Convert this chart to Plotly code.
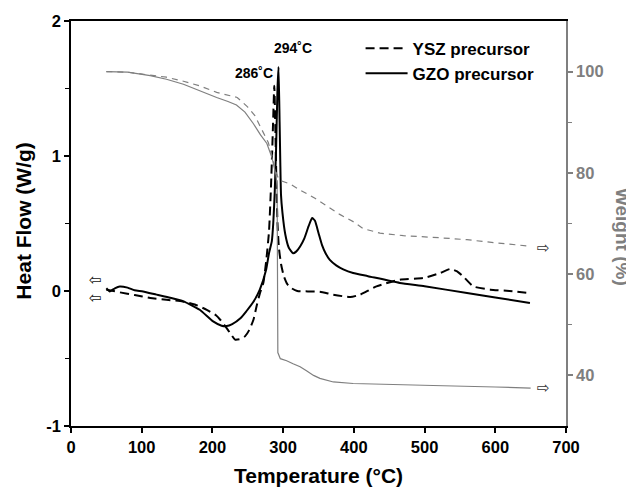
import plotly.graph_objects as go

# ---- DSC (left axis, Heat Flow W/g) ----
gzo_dsc_T = [50, 55, 62, 69, 80, 90, 102, 121, 140, 159, 182, 201, 213, 220, 228, 240, 248, 258, 267,
             276, 280, 284, 286, 288, 290, 292, 293.5, 295, 296, 297, 299, 303, 308, 314, 318, 324, 330,
             336, 341, 345, 350, 355, 360, 366, 375, 385, 399, 420, 465, 500, 560, 600, 649]
gzo_dsc_HF = [0.02, -0.003, 0.02, 0.034, 0.025, 0.005, -0.003, -0.027, -0.05, -0.077, -0.139, -0.225,
              -0.257, -0.26, -0.245, -0.2, -0.15, -0.08, 0.01,
              0.16, 0.28, 0.37, 0.5, 0.72, 1.05, 1.5, 1.66, 1.25, 0.95, 0.71, 0.58, 0.42, 0.32, 0.28,
              0.29, 0.33, 0.39, 0.48, 0.54, 0.52, 0.43, 0.34, 0.28, 0.23, 0.19, 0.16, 0.133, 0.11,
              0.06, 0.035, -0.015, -0.048, -0.089]

ysz_dsc_T = [50, 60, 69, 90, 112, 135, 158, 175, 192, 205, 211, 218, 225, 232, 240, 246, 252, 258, 263,
             267, 272, 276, 280, 283, 285.5, 287.5, 289, 290.5, 292, 294, 297, 301, 306, 312, 320, 335,
             352, 371, 395, 409, 432, 465, 498, 522, 536, 546, 556, 569, 593, 620, 649]
ysz_dsc_HF = [0.01, 0.0, -0.01, -0.03, -0.052, -0.065, -0.077, -0.1, -0.139, -0.18, -0.213, -0.26,
              -0.311, -0.36, -0.355, -0.336, -0.29, -0.213, -0.1, -0.02, 0.06, 0.22, 0.44, 0.8, 1.2,
              1.52, 1.2, 0.8, 0.5, 0.32, 0.2, 0.11, 0.05, 0.02, 0.0, -0.003, -0.005, -0.027, -0.045,
              -0.027, 0.034, 0.084, 0.096, 0.133, 0.163, 0.145, 0.1, 0.034, 0.01, 0.0, -0.015]

# ---- TGA (right axis, Weight %) ----
gzo_tga_T = [50, 80, 112, 135, 159, 182, 206, 222, 234, 246, 258, 268, 277, 284, 288, 290, 291.5, 292,
             292.5, 296, 305, 314, 324, 333, 343, 352, 371, 399, 420, 512, 600, 650]
gzo_tga_W = [100, 99.9, 99.2, 98.5, 97.5, 96.2, 94.9, 94.1, 93.4, 92.0, 89.7, 87.5, 85.8, 83.1, 81.0,
             79.5, 77.0, 60.0, 44.5, 43.3, 42.9, 42.3, 41.7, 40.9, 40.0, 39.4, 38.7, 38.4, 38.3, 38.0,
             37.7, 37.5]

ysz_tga_T = [50, 80, 112, 135, 159, 182, 206, 235, 250, 260, 270, 279, 285, 289, 293, 298, 310, 324,
             345, 360, 380, 400, 413, 437, 470, 520, 560, 600, 650]
ysz_tga_W = [100, 99.9, 99.3, 98.9, 98.1, 97.2, 95.9, 94.9, 93.0, 91.3, 88.5, 86.0, 83.0, 80.5, 79.0,
             78.4, 77.8, 76.6, 75.0, 73.6, 71.8, 70.3, 69.0, 68.1, 67.6, 67.2, 66.8, 66.2, 65.5]

x_ticks = [0, 100, 200, 300, 400, 500, 600, 700]
y_ticks = [-1, 0, 1, 2]
y_ticktext = ["-1", "0", "1", "2"]
y2_ticks = [40, 60, 80, 100]

peak_labels = ["294˚C", "286˚C"]
series_names = ["YSZ precursor", "GZO precursor"]

GRAY = "#7f7f7f"
FONT = "Liberation Sans, Arial, sans-serif"

fig = go.Figure()
fig.add_trace(go.Scatter(x=ysz_tga_T, y=ysz_tga_W, yaxis="y2", mode="lines", showlegend=False,
                         line=dict(color=GRAY, width=1.2, dash="6px,5px")))
fig.add_trace(go.Scatter(x=gzo_tga_T, y=gzo_tga_W, yaxis="y2", mode="lines", showlegend=False,
                         line=dict(color=GRAY, width=1.2)))
fig.add_trace(go.Scatter(x=ysz_dsc_T, y=ysz_dsc_HF, mode="lines", name=series_names[0],
                         line=dict(color="black", width=2, dash="9px,5px", shape="spline", smoothing=0.5)))
fig.add_trace(go.Scatter(x=gzo_dsc_T, y=gzo_dsc_HF, mode="lines", name=series_names[1],
                         line=dict(color="black", width=2, shape="spline", smoothing=0.5)))

tickfont = dict(family=FONT, size=16.5, color="black", weight="bold")

# page body has an 8px margin, so the figure is sized/margined to land the plot at the right pixels
fig.update_layout(
    width=626, height=479,
    margin=dict(l=63, r=68, t=13, b=61, autoexpand=False),
    paper_bgcolor="white", plot_bgcolor="white",
    showlegend=True,
    legend=dict(x=0.585, y=0.976, xanchor="left", yanchor="top", bgcolor="rgba(0,0,0,0)",
                font=dict(family=FONT, size=17, color="black", weight="bold"),
                tracegroupgap=0, itemwidth=42),
    xaxis=dict(range=[0, 700], tickmode="array", tickvals=x_ticks, ticks="outside", ticklen=5,
               tickwidth=1.5, tickcolor="black", showline=True, linecolor="black", linewidth=1.5,
               mirror=True, showgrid=False, zeroline=False, tickfont=tickfont),
    yaxis=dict(range=[-1, 2], tickmode="array", tickvals=y_ticks, ticktext=y_ticktext,
               ticks="outside", ticklen=5, tickwidth=1.5, tickcolor="black", showline=True,
               linecolor="black", linewidth=1.5, showgrid=False, zeroline=False, tickfont=tickfont,
               minor=dict(tickmode="array", tickvals=[-0.5, 0.5, 1.5], ticks="outside", ticklen=4,
                          tickwidth=1.2, tickcolor="black", showgrid=False)),
    yaxis2=dict(range=[30, 110], overlaying="y", side="right", anchor="x", tickmode="array",
                tickvals=y2_ticks, ticks="outside", ticklen=5, tickwidth=1.5, tickcolor=GRAY,
                showline=True, linecolor=GRAY, linewidth=1.5, showgrid=False, zeroline=False,
                tickfont=dict(family=FONT, size=16.5, color=GRAY, weight="bold"),
                minor=dict(tickmode="array", tickvals=[50, 70, 90], ticks="outside", ticklen=4,
                           tickwidth=1.2, tickcolor=GRAY, showgrid=False)),
)

ann_font = dict(family=FONT, size=14, color="black", weight="bold")
fig.add_annotation(x=314, y=1.80, xref="x", yref="y", text=peak_labels[0], showarrow=False, font=ann_font)
fig.add_annotation(x=259, y=1.617, xref="x", yref="y", text=peak_labels[1], showarrow=False, font=ann_font)

# axis titles
fig.add_annotation(x=-0.095, y=0.507, xref="paper", yref="paper", text="Heat Flow (W/g)", textangle=-90,
                   showarrow=False, xanchor="center", yanchor="middle",
                   font=dict(family=FONT, size=21, color="black", weight="bold"))
fig.add_annotation(x=0.5, y=-0.123, xref="paper", yref="paper", text="Temperature (°C)",
                   showarrow=False, xanchor="center", yanchor="middle",
                   font=dict(family=FONT, size=21, color="black", weight="bold"))
fig.add_annotation(x=1.113, y=0.467, xref="paper", yref="paper", text="Weight (%)", textangle=90,
                   showarrow=False, xanchor="center", yanchor="middle",
                   font=dict(family=FONT, size=19, color=GRAY, weight="bold"))

# direction arrows (hollow)
arrow_font = dict(family="DejaVu Sans", size=15, color="#111111")
fig.add_annotation(x=34, y=0.084, xref="x", yref="y", text="⇦", showarrow=False, font=arrow_font)
fig.add_annotation(x=34, y=-0.05, xref="x", yref="y", text="⇦", showarrow=False, font=arrow_font)
arrow_font2 = dict(family="DejaVu Sans", size=15, color="#333333")
fig.add_annotation(x=668, y=65.2, xref="x", yref="y2", text="⇨", showarrow=False, font=arrow_font2)
fig.add_annotation(x=668, y=37.6, xref="x", yref="y2", text="⇨", showarrow=False, font=arrow_font2)

fig.write_html("out.html")
